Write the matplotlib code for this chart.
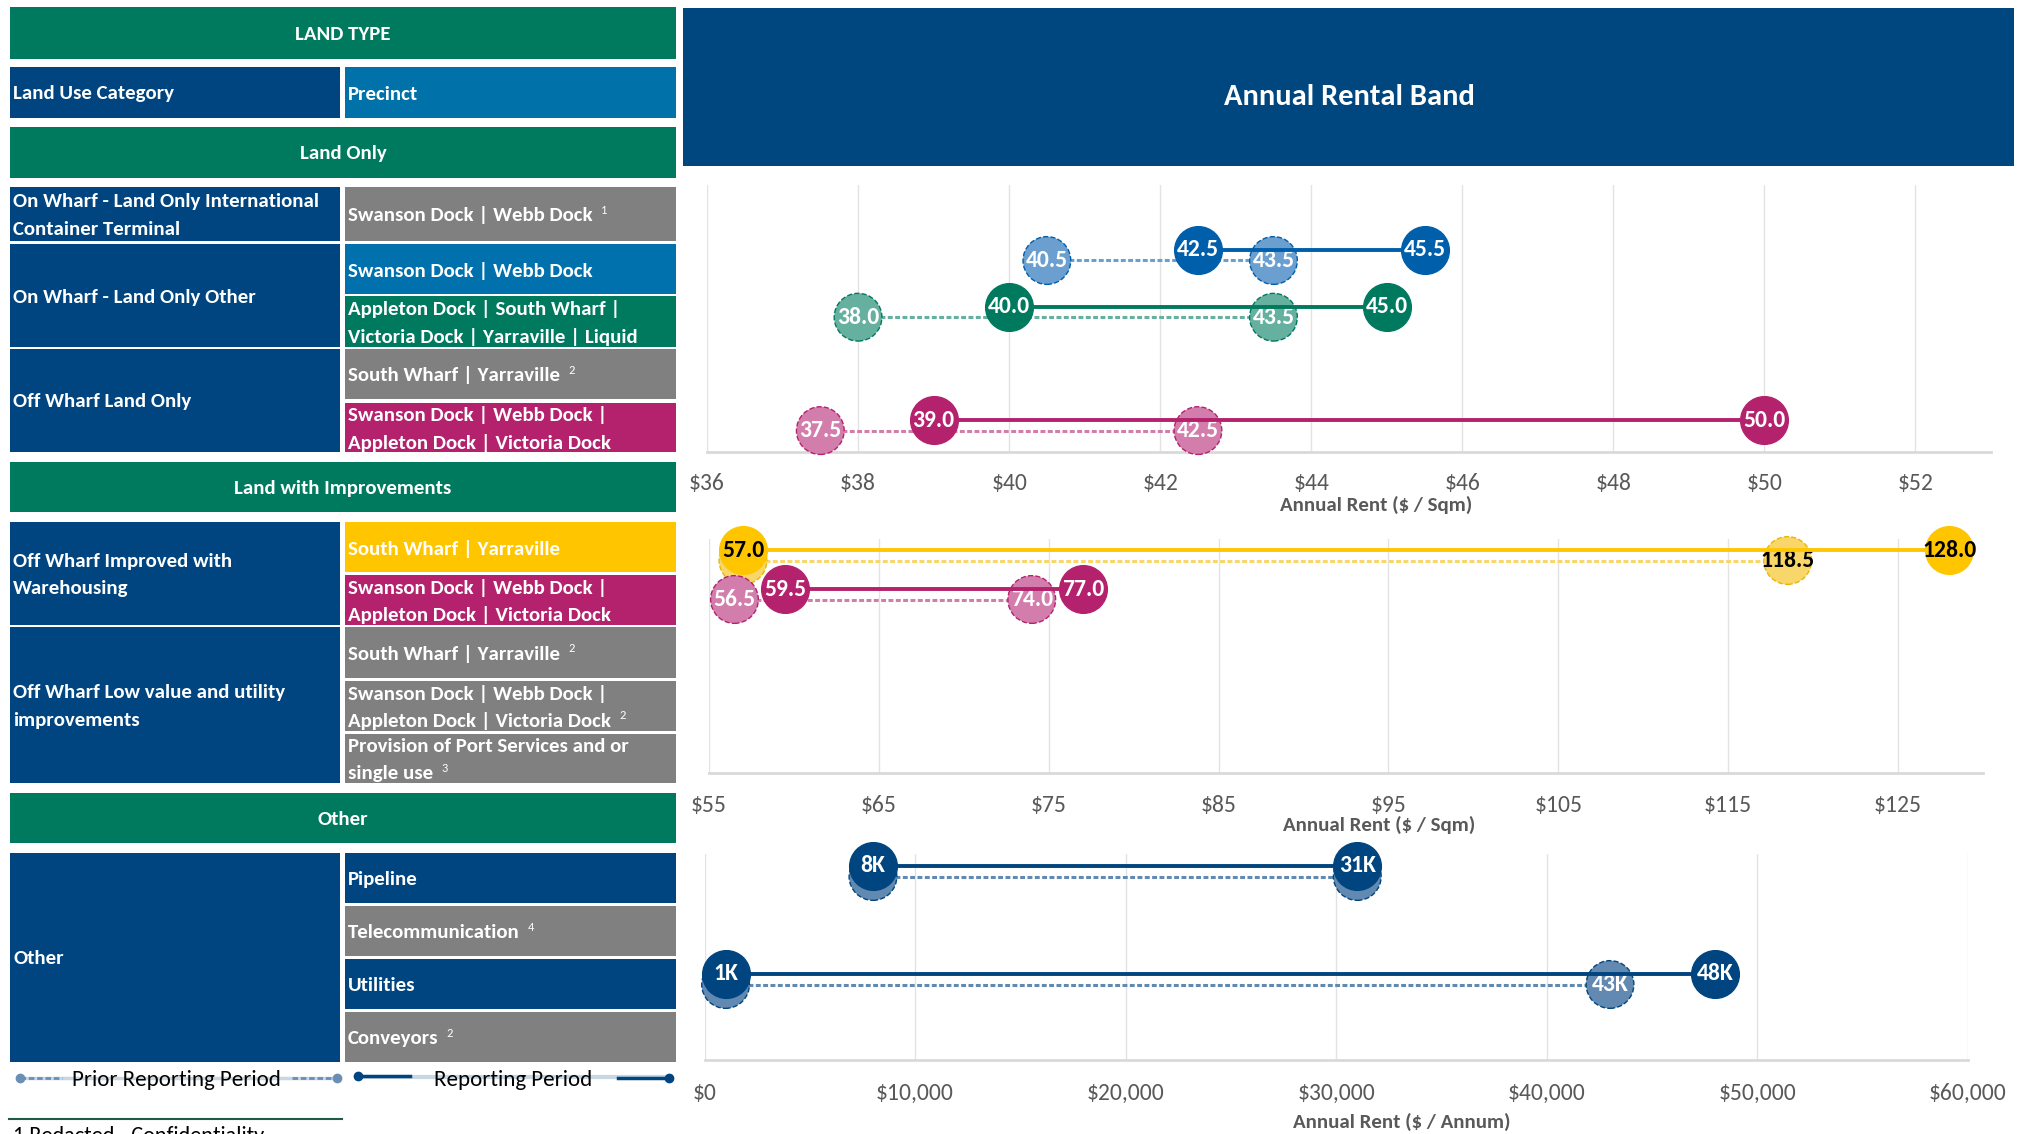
import matplotlib
matplotlib.use("Agg")
import matplotlib.pyplot as plt
from matplotlib.ticker import FuncFormatter

# Carlito has Calibri's metrics, which is what the original was set in
plt.rcParams["font.family"] = ["Carlito", "Liberation Sans", "DejaVu Sans"]

W, H = 2028, 1134

NAVY = "#00457f"
GREEN = "#007a5e"
BLUE_H = "#0071a9"
GRAY = "#808080"
MAGENTA = "#b4226e"
YELLOW = "#ffc600"
AXGRAY = "#595959"

# ---------------- table text ----------------
headers = ["LAND TYPE", "Land Only", "Land with Improvements", "Other"]
land_use = ["On Wharf - Land Only International\nContainer Terminal",
            "On Wharf - Land Only Other",
            "Off Wharf Land Only",
            "Off Wharf Improved with\nWarehousing",
            "Off Wharf Low value and utility\nimprovements",
            "Other"]
precincts = ["Swanson Dock | Webb Dock",
             "Swanson Dock | Webb Dock",
             "Appleton Dock | South Wharf |\nVictoria Dock | Yarraville | Liquid",
             "South Wharf | Yarraville",
             "Swanson Dock | Webb Dock |\nAppleton Dock | Victoria Dock",
             "South Wharf | Yarraville",
             "Swanson Dock | Webb Dock |\nAppleton Dock | Victoria Dock",
             "South Wharf | Yarraville",
             "Swanson Dock | Webb Dock |\nAppleton Dock | Victoria Dock",
             "Provision of Port Services and or\nsingle use",
             "Pipeline", "Telecommunication", "Utilities", "Conveyors"]
precinct_notes = ["1", "", "", "2", "", "", "", "2", "2", "3", "", "4", "", "2"]
precinct_cols = [GRAY, "#0071ad", GREEN, GRAY, MAGENTA, YELLOW, MAGENTA,
                 GRAY, GRAY, GRAY, NAVY, GRAY, NAVY, GRAY]

# ---------------- chart data ----------------
# Annual rent $/sqm - land only (row = precinct row in the land only block)
land_rows = [1, 2, 4]
land_cur_lo = [42.5, 40.0, 39.0]
land_cur_hi = [45.5, 45.0, 50.0]
land_pri_lo = [40.5, 38.0, 37.5]
land_pri_hi = [43.5, 43.5, 42.5]
land_cur_col = ["#005fab", GREEN, MAGENTA]
land_pri_col = ["#6a9fd0", "#66b0a0", "#d27dab"]
land_txt = ["white", "white", "white"]

# Annual rent $/sqm - land with improvements
impr_rows = [0, 1]
impr_cur_lo = [57.0, 59.5]
impr_cur_hi = [128.0, 77.0]
impr_pri_lo = [57.0, 56.5]
impr_pri_hi = [118.5, 74.0]
impr_cur_col = [YELLOW, MAGENTA]
impr_pri_col = ["#f8d66a", "#d27dab"]
impr_txt = ["black", "white"]

# Annual rent $/annum - other
oth_rows = [0, 2]
oth_cur_lo = [8000, 1000]
oth_cur_hi = [31000, 48000]
oth_pri_lo = [8000, 1000]
oth_pri_hi = [31000, 43000]
oth_cur_col = [NAVY, NAVY]
oth_pri_col = ["#6189b1", "#6189b1"]
oth_txt = ["white", "white"]

fig = plt.figure(figsize=(W / 100, H / 100), dpi=100)
bg = fig.add_axes([0, 0, 1, 1])
bg.set_xlim(0, W)
bg.set_ylim(H, 0)
bg.axis("off")

LEFT, RIGHT, FULL = (10, 340), (345, 676), (10, 676)
LINE = 27.5
TFS = 15


def cell(xs, y0, y1, colour, text, centre=False, note="", fs=TFS):
    bg.add_patch(plt.Rectangle((xs[0], y0), xs[1] - xs[0], y1 - y0,
                               color=colour, lw=0))
    lines = text.split("\n")
    ymid = (y0 + y1) / 2
    x = (xs[0] + xs[1]) / 2 if centre else xs[0] + 3
    last = None
    for i, ln in enumerate(lines):
        y = ymid + (i - (len(lines) - 1) / 2) * LINE
        last = bg.text(x, y, ln, color="white", fontsize=fs, fontweight="bold",
                       ha="center" if centre else "left", va="center_baseline")
    if note:
        bg.annotate(note, xy=(1, 0.8), xycoords=last, xytext=(8, 0),
                    textcoords="offset pixels", color="white", fontsize=9,
                    ha="left", va="center")


# headers
cell(FULL, 7, 59, GREEN, headers[0], centre=True)
cell(LEFT, 67, 118, NAVY, "Land Use Category")
cell(RIGHT, 67, 118, BLUE_H, "Precinct")
cell(FULL, 127, 178, GREEN, headers[1], centre=True)
cell(FULL, 462, 512, GREEN, headers[2], centre=True)
cell(FULL, 793, 843, GREEN, headers[3], centre=True)

# land use column
lu_box = [(187, 241), (244, 347), (349, 452), (522, 625), (627, 783), (853, 1062)]
for (y0, y1), t in zip(lu_box, land_use):
    cell(LEFT, y0, y1, NAVY, t)

# precinct column
pr_box = [(187, 241), (244, 294), (296, 347), (349, 399), (403, 452),
          (522, 572), (575, 625), (627, 678), (681, 731), (734, 783),
          (853, 903), (906, 956), (959, 1009), (1012, 1062)]
for (y0, y1), t, n, c in zip(pr_box, precincts, precinct_notes, precinct_cols):
    cell(RIGHT, y0, y1, c, t, note=n)

# title box
bg.add_patch(plt.Rectangle((683, 8), 2014 - 683, 158, color="#00467f", lw=0))
bg.text(1349, 97, "Annual Rental Band", color="white", fontsize=22,
        fontweight="bold", ha="center", va="center")

# legend
bg.plot([20, 337], [1078, 1078], color="#c9d6e3", lw=2.5, zorder=1)
bg.plot([20, 62], [1078, 1078], color="#6a8fb5", lw=2, ls=(0, (2, 1)), zorder=2)
bg.plot([292, 337], [1078, 1078], color="#6a8fb5", lw=2, ls=(0, (2, 1)), zorder=2)
bg.plot([20, 337], [1078, 1078], ls="none", marker="o", ms=6, color="#6a8fb5", zorder=3)
bg.text(176, 1080, "Prior Reporting Period", fontsize=16.5, ha="center", va="center", zorder=4)
bg.plot([358, 669], [1077, 1077], color="#c9d6e3", lw=3, zorder=1)
bg.plot([358, 410], [1076, 1076], color=NAVY, lw=2.5, zorder=2)
bg.plot([618, 669], [1078, 1078], color=NAVY, lw=2.5, zorder=2)
bg.plot([358, 669], [1076, 1078], ls="none", marker="o", ms=6, color=NAVY, zorder=3)
bg.text(513, 1080, "Reporting Period", fontsize=16.5, ha="center", va="center", zorder=4)

# footnote (cut off by the page edge, as in the original)
bg.plot([9, 342], [1119, 1119], color="#1f5a4a", lw=1.5)
bg.text(13, 1126, "1 Redacted - Confidentiality", fontsize=16, ha="left", va="top")


def make_chart(x0, x1, y0, y1, row0, step):
    ax = fig.add_axes([x0 / W, 1 - y1 / H, (x1 - x0) / W, (y1 - y0) / H])
    ax.patch.set_visible(False)
    ax.set_ylim((y1 - row0) / step, (y0 - row0) / step)
    for s in ("top", "left", "right"):
        ax.spines[s].set_visible(False)
    ax.spines["bottom"].set_color("#d9d9d9")
    ax.spines["bottom"].set_linewidth(2)
    ax.grid(axis="x", color="#e3e3e3", lw=1)
    ax.set_axisbelow(True)
    ax.set_yticks([])
    ax.tick_params(axis="x", length=0, labelsize=17, labelcolor=AXGRAY)
    return ax, 10.5 / step


def dumbbell(ax, rows, lo, hi, cols, tcols, fmt, dy, prior, edge=None, cover=None):
    for i, (r, a, b, c, tc) in enumerate(zip(rows, lo, hi, cols, tcols)):
        y = r + dy if prior else r
        z = 2 if prior else 5
        ax.plot([a, b], [y, y], color=c, lw=2.2 if prior else 2.8,
                ls=(0, (1.6, 0.8)) if prior else "-", zorder=z, clip_on=False)
        ax.scatter([a, b], [y, y], s=1180, color=c,
                   edgecolors=edge[i] if edge else c,
                   linewidths=1.0, linestyles="--" if prior else "-",
                   zorder=z + 1, clip_on=False)
        for v in (a, b):
            # a prior label sitting under a current circle cannot be seen
            if cover is not None and v in cover[i]:
                continue
            ax.text(v, y, fmt(v), color=tc, fontsize=17, fontweight="bold",
                    ha="center", va="center", zorder=z + 2, clip_on=False)


# chart 1: land only
ax1, d1 = make_chart(707, 1991, 185, 452, 193.3, 56.7)
ax1.set_xlim(36, 53)
ax1.set_xticks(range(36, 53, 2))
ax1.xaxis.set_major_formatter(FuncFormatter(lambda v, p: f"${v:.0f}"))
ax1.tick_params(axis="x", pad=15)
f1 = lambda v: f"{v:.1f}"
dumbbell(ax1, land_rows, land_pri_lo, land_pri_hi, land_pri_col, land_txt, f1, d1, True,
         edge=land_cur_col, cover=list(zip(land_cur_lo, land_cur_hi)))
dumbbell(ax1, land_rows, land_cur_lo, land_cur_hi, land_cur_col, land_txt, f1, d1, False)
bg.text(1376, 505, "Annual Rent ($ / Sqm)", fontsize=15, fontweight="bold",
        color=AXGRAY, ha="center", va="center")

# chart 2: land with improvements
ax2, d2 = make_chart(709, 1983, 539, 773, 550, 39)
ax2.set_xlim(55, 130)
ax2.set_xticks(range(55, 130, 10))
ax2.xaxis.set_major_formatter(FuncFormatter(lambda v, p: f"${v:.0f}"))
ax2.tick_params(axis="x", pad=15.5)
dumbbell(ax2, impr_rows, impr_pri_lo, impr_pri_hi, impr_pri_col, impr_txt, f1, d2, True,
         edge=["#e8b800", MAGENTA], cover=list(zip(impr_cur_lo, impr_cur_hi)))
dumbbell(ax2, impr_rows, impr_cur_lo, impr_cur_hi, impr_cur_col, impr_txt, f1, d2, False)
bg.text(1379, 825, "Annual Rent ($ / Sqm)", fontsize=15, fontweight="bold",
        color=AXGRAY, ha="center", va="center")

# chart 3: other
ax3, d3 = make_chart(704.5, 1968, 854, 1060, 866, 54)
ax3.set_xlim(0, 60000)
ax3.set_xticks(range(0, 60001, 10000))
ax3.xaxis.set_major_formatter(FuncFormatter(lambda v, p: f"${v:,.0f}"))
ax3.tick_params(axis="x", pad=16.5)
f3 = lambda v: f"{v / 1000:.0f}K"
dumbbell(ax3, oth_rows, oth_pri_lo, oth_pri_hi, oth_pri_col, oth_txt, f3, d3, True,
         edge=oth_cur_col, cover=list(zip(oth_cur_lo, oth_cur_hi)))
dumbbell(ax3, oth_rows, oth_cur_lo, oth_cur_hi, oth_cur_col, oth_txt, f3, d3, False)
bg.text(1402, 1122, "Annual Rent ($ / Annum)", fontsize=15, fontweight="bold",
        color=AXGRAY, ha="center", va="center")

fig.savefig("out.png", dpi=100)
